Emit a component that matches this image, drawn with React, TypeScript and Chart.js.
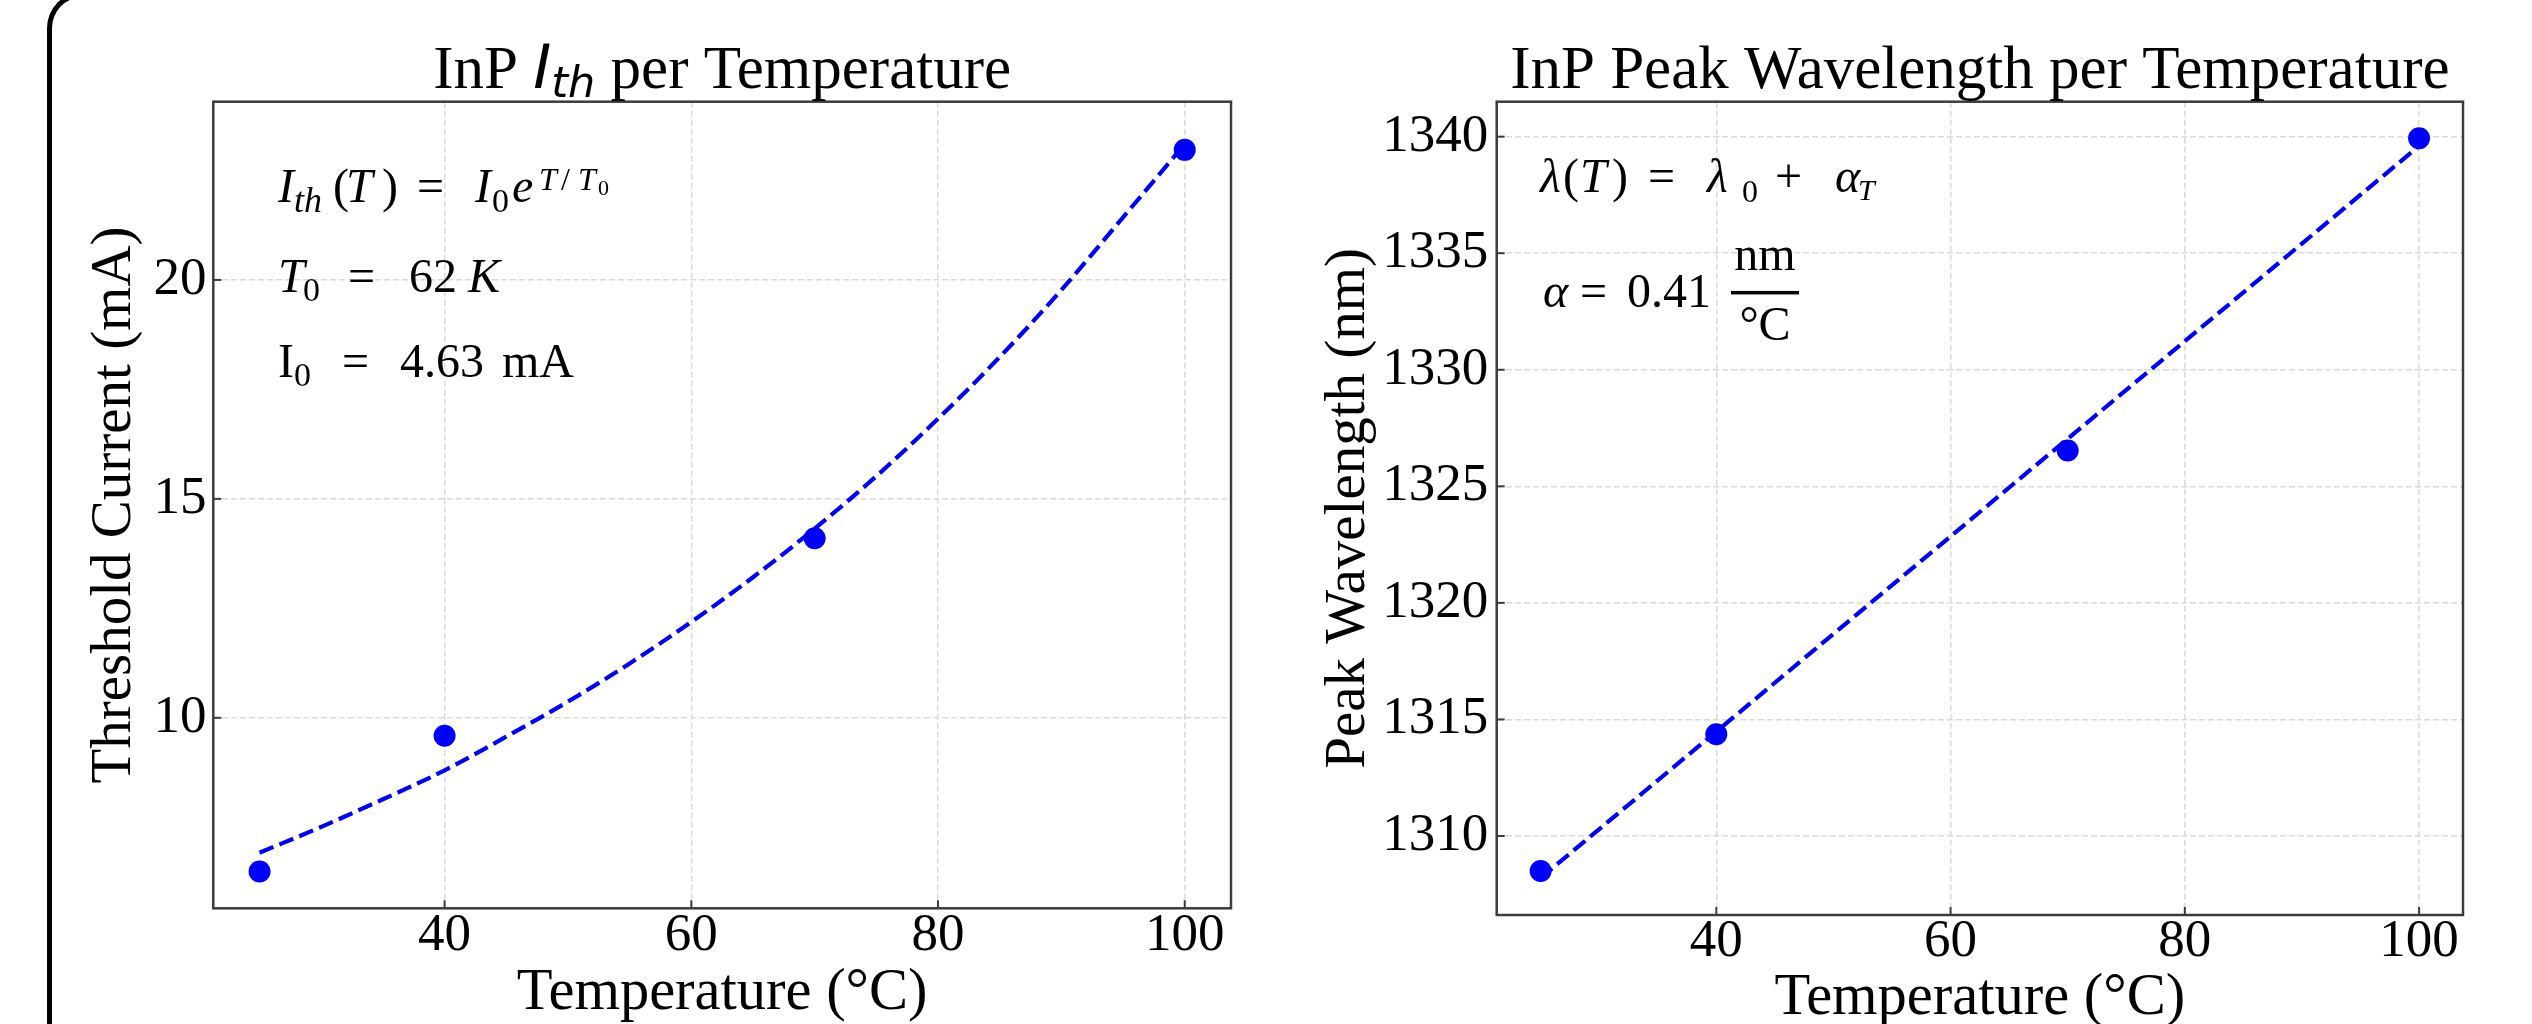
import React, { useEffect, useRef } from "react";
import { Chart, registerables } from "chart.js";

Chart.register(...registerables);

const SERIF = "'Liberation Serif', 'Times New Roman', Times, serif";
const MATH_SANS = "'DejaVu Sans', sans-serif";

// ---------- data ----------
const temperatures = [25, 40, 70, 100];
const thresholdCurrent = [6.49, 9.59, 14.1, 22.97];
const fitTemperatures = [25, 30, 35, 40, 45, 50, 55, 60, 65, 70, 75, 80, 85, 90, 95, 100];
const fitThreshold = [6.92, 7.51, 8.14, 8.8, 9.57, 10.37, 11.24, 12.19, 13.21, 14.32, 15.52, 16.83, 18.24, 19.77, 21.43, 23.1];
const peakWavelength = [1308.5, 1314.36, 1326.54, 1339.93];
const fitLineTemperatures = [25, 100];
const fitWavelength = [1308.2, 1339.6];
const temperatureTicks = [40, 60, 80, 100];
const currentTicks = [10, 15, 20];
const wavelengthTicks = [1310, 1315, 1320, 1325, 1330, 1335, 1340];
const temperatureRange = [21.25, 103.75];
const currentRange = [5.65, 24.07];
const wavelengthRange = [1306.61, 1341.5];

// ---------- text helpers ----------
type Run = {
  t: string;
  x: number;
  dy?: number;
  size?: number;
  it?: boolean;
  fam?: string;
  align?: CanvasTextAlign;
};

function fontOf(size: number, it?: boolean, fam?: string) {
  return `${it ? "italic " : ""}${size}px ${fam ?? SERIF}`;
}

function drawRuns(ctx: CanvasRenderingContext2D, x0: number, y0: number, runs: Run[]) {
  for (const r of runs) {
    ctx.font = fontOf(r.size ?? 48, r.it, r.fam);
    ctx.textAlign = r.align ?? "left";
    ctx.textBaseline = "alphabetic";
    ctx.fillText(r.t, x0 + r.x, y0 + (r.dy ?? 0));
  }
}

type TRun = { t: string; size: number; it?: boolean; fam?: string; dy?: number };

function drawTitle(ctx: CanvasRenderingContext2D, cx: number, baseline: number, runs: TRun[]) {
  const widths = runs.map((r) => {
    ctx.font = fontOf(r.size, r.it, r.fam);
    return ctx.measureText(r.t).width;
  });
  const total = widths.reduce((a, b) => a + b, 0);
  let x = cx - total / 2;
  ctx.textAlign = "left";
  ctx.textBaseline = "alphabetic";
  runs.forEach((r, i) => {
    ctx.font = fontOf(r.size, r.it, r.fam);
    ctx.fillText(r.t, x, baseline + (r.dy ?? 0));
    x += widths[i];
  });
}

function drawFrame(chart: any) {
  const { ctx, chartArea: a, scales } = chart;
  ctx.save();
  ctx.strokeStyle = "#3c3c3c";
  ctx.lineWidth = 2;
  for (const t of scales.x.ticks) {
    const px = scales.x.getPixelForValue(t.value);
    ctx.beginPath();
    ctx.moveTo(px, a.bottom);
    ctx.lineTo(px, a.bottom - 8);
    ctx.stroke();
  }
  for (const t of scales.y.ticks) {
    const py = scales.y.getPixelForValue(t.value);
    ctx.beginPath();
    ctx.moveTo(a.left, py);
    ctx.lineTo(a.left + 8, py);
    ctx.stroke();
  }
  ctx.lineWidth = 2.5;
  ctx.strokeRect(a.left, a.top, a.right - a.left, a.bottom - a.top);
  ctx.restore();
}

const leftPlugin = {
  id: "panelLeft",
  afterDraw(chart: any) {
    const { ctx, chartArea: a } = chart;
    drawFrame(chart);
    ctx.save();
    ctx.fillStyle = "#000";
    drawTitle(ctx, (a.left + a.right) / 2, a.top - 13.7, [
      { t: "InP ", size: 61 },
      { t: "I", size: 61, it: true, fam: MATH_SANS },
      { t: "th", size: 43, it: true, fam: MATH_SANS, dy: 9 },
      { t: " per Temperature", size: 61 },
    ]);
    const x0 = a.left + 64.7;
    drawRuns(ctx, x0, a.top + 100, [
      { t: "I", x: 0, it: true },
      { t: "th", x: 16, dy: 10, size: 36, it: true },
      { t: "(", x: 55 },
      { t: "T", x: 68, it: true },
      { t: ")", x: 104 },
      { t: "=", x: 139 },
      { t: "I", x: 197, it: true },
      { t: "0", x: 214, dy: 10, size: 34 },
      { t: "e", x: 234, it: true },
      { t: "T", x: 261, dy: -12, size: 32, it: true },
      { t: "/", x: 283, dy: -12, size: 32 },
      { t: "T", x: 300, dy: -12, size: 32, it: true },
      { t: "0", x: 320, dy: -7, size: 22 },
    ]);
    drawRuns(ctx, x0, a.top + 190, [
      { t: "T", x: 0, it: true },
      { t: "0", x: 25, dy: 9, size: 34 },
      { t: "=", x: 70 },
      { t: "62", x: 131 },
      { t: "K", x: 190, it: true },
    ]);
    drawRuns(ctx, x0, a.top + 275, [
      { t: "I", x: 0 },
      { t: "0", x: 16, dy: 9, size: 34 },
      { t: "=", x: 64 },
      { t: "4.63", x: 122 },
      { t: "mA", x: 224 },
    ]);
    ctx.restore();
  },
};

const rightPlugin = {
  id: "panelRight",
  afterDraw(chart: any) {
    const { ctx, chartArea: a } = chart;
    drawFrame(chart);
    ctx.save();
    ctx.fillStyle = "#000";
    drawTitle(ctx, (a.left + a.right) / 2, a.top - 13.7, [
      { t: "InP Peak Wavelength per Temperature", size: 61 },
    ]);
    const x0 = a.left + 43.3;
    drawRuns(ctx, x0, a.top + 90, [
      { t: "λ", x: 0, it: true },
      { t: "(", x: 23 },
      { t: "T", x: 40, it: true },
      { t: ")", x: 72 },
      { t: "=", x: 108 },
      { t: "λ", x: 167, it: true },
      { t: "0", x: 202, dy: 10, size: 32 },
      { t: "+", x: 235 },
      { t: "α", x: 295, it: true },
      { t: "T", x: 318, dy: 8, size: 30, it: true },
    ]);
    const y2 = a.top + 205;
    drawRuns(ctx, x0, y2, [
      { t: "α", x: 3, it: true },
      { t: "=", x: 40 },
      { t: "0.41", x: 87 },
      { t: "nm", x: 225, dy: -36.7, align: "center" },
      { t: "°C", x: 225, dy: 33.3, align: "center" },
    ]);
    ctx.fillRect(x0 + 191, y2 - 14 - 1.75, 68, 3.5);
    ctx.restore();
  },
};

function buildConfig(p: {
  scatterY: number[];
  fitX: number[];
  fitY: number[];
  yRange: number[];
  yTicks: number[];
  yTitle: string;
  yTitlePad: number;
  yWidth: number;
  yTickPad: number;
  xHeight: number;
  xTitlePad: number;
  xTickPad: number;
  padding: any;
  plugin: any;
}): any {
  const gridOpts = { color: "#dadada", lineWidth: 1.5, drawTicks: false, tickLength: 0 };
  return {
    type: "scatter",
    data: {
      datasets: [
        {
          label: "fit",
          data: p.fitX.map((x, i) => ({ x, y: p.fitY[i] })),
          showLine: true,
          pointRadius: 0,
          pointHoverRadius: 0,
          borderColor: "#0000ff",
          backgroundColor: "#0000ff",
          borderWidth: 4.2,
          borderDash: [15, 6.5],
          cubicInterpolationMode: "monotone",
          fill: false,
          order: 1,
        },
        {
          label: "data",
          data: temperatures.map((x, i) => ({ x, y: p.scatterY[i] })),
          pointRadius: 11,
          pointHoverRadius: 11,
          backgroundColor: "#0000ff",
          borderWidth: 0,
          order: 0,
        },
      ],
    },
    options: {
      animation: false,
      responsive: false,
      devicePixelRatio: 1,
      layout: { padding: p.padding },
      plugins: { legend: { display: false }, tooltip: { enabled: false }, title: { display: false } },
      events: [],
      scales: {
        x: {
          type: "linear",
          position: "bottom",
          min: temperatureRange[0],
          max: temperatureRange[1],
          afterBuildTicks: (s: any) => {
            s.ticks = temperatureTicks.map((v) => ({ value: v }));
          },
          afterFit: (s: any) => {
            s.height = p.xHeight;
          },
          ticks: {
            font: { family: SERIF, size: 53, lineHeight: 1 },
            color: "#000",
            padding: p.xTickPad,
            maxRotation: 0,
            autoSkip: false,
            callback: (v: any) => String(v),
          },
          grid: gridOpts,
          border: { display: false, dash: [6, 3] },
          title: {
            display: true,
            text: "Temperature (°C)",
            color: "#000",
            font: { family: SERIF, size: 58.5, lineHeight: 1 },
            padding: { top: 0, bottom: p.xTitlePad },
          },
        },
        y: {
          type: "linear",
          position: "left",
          min: p.yRange[0],
          max: p.yRange[1],
          afterBuildTicks: (s: any) => {
            s.ticks = p.yTicks.map((v) => ({ value: v }));
          },
          afterFit: (s: any) => {
            s.width = p.yWidth;
          },
          ticks: {
            font: { family: SERIF, size: 53, lineHeight: 1 },
            color: "#000",
            padding: p.yTickPad,
            autoSkip: false,
            callback: (v: any) => String(v),
          },
          grid: gridOpts,
          border: { display: false, dash: [6, 3] },
          title: {
            display: true,
            text: p.yTitle,
            color: "#000",
            font: { family: SERIF, size: 57, lineHeight: 1 },
            padding: { top: p.yTitlePad, bottom: 0 },
          },
        },
      },
    },
    plugins: [p.plugin],
  };
}

export default function App() {
  const leftRef = useRef<HTMLCanvasElement>(null);
  const rightRef = useRef<HTMLCanvasElement>(null);

  useEffect(() => {
    const left = new Chart(
      leftRef.current as HTMLCanvasElement,
      buildConfig({
        scatterY: thresholdCurrent,
        fitX: fitTemperatures,
        fitY: fitThreshold,
        yRange: currentRange,
        yTicks: currentTicks,
        yTitle: "Threshold Current (mA)",
        yTitlePad: 86.5,
        yWidth: 213.3,
        yTickPad: 6.8,
        xHeight: 1024 - 908.3,
        xTitlePad: 1.2,
        xTickPad: 1.3,
        padding: { left: 0, top: 101.7, right: 35, bottom: 0 },
        plugin: leftPlugin,
      })
    );
    const right = new Chart(
      rightRef.current as HTMLCanvasElement,
      buildConfig({
        scatterY: peakWavelength,
        fitX: fitLineTemperatures,
        fitY: fitWavelength,
        yRange: wavelengthRange,
        yTicks: wavelengthTicks,
        yTitle: "Peak Wavelength (nm)",
        yTitlePad: 54.5,
        yWidth: 230.7,
        yTickPad: 8.5,
        xHeight: 1024 - 915,
        xTitlePad: -3.8,
        xTickPad: 0.6,
        padding: { left: 0, top: 101.7, right: 69, bottom: 0 },
        plugin: rightPlugin,
      })
    );
    return () => {
      left.destroy();
      right.destroy();
    };
  }, []);

  return (
    <div
      style={{
        position: "absolute",
        left: 0,
        top: 0,
        width: 2532,
        height: 1024,
        background: "#fff",
        overflow: "hidden",
      }}
    >
      <div
        style={{
          position: "absolute",
          left: 46.5,
          top: -8,
          width: 3000,
          height: 1200,
          borderLeft: "5px solid #000",
          borderTop: "5px solid #000",
          borderTopLeftRadius: 36,
          boxSizing: "border-box",
        }}
      />
      <canvas
        ref={leftRef}
        width={1266}
        height={1024}
        style={{ position: "absolute", left: 0, top: 0, width: 1266, height: 1024 }}
      />
      <canvas
        ref={rightRef}
        width={1266}
        height={1024}
        style={{ position: "absolute", left: 1266, top: 0, width: 1266, height: 1024 }}
      />
    </div>
  );
}
